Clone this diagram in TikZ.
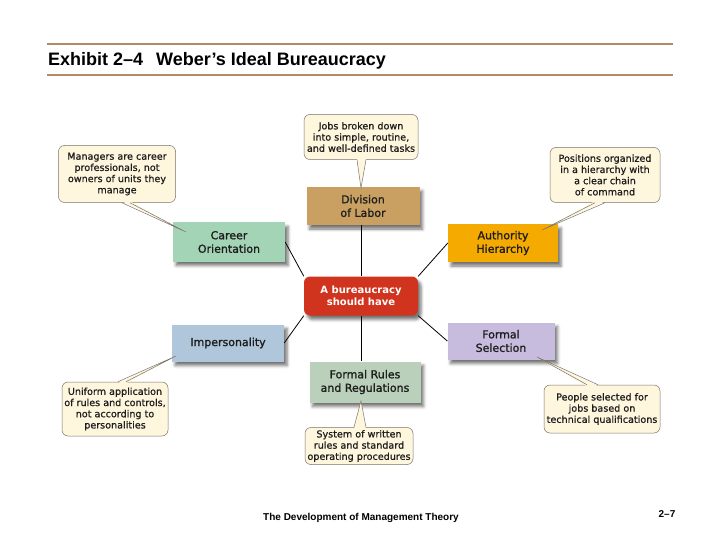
\documentclass[tikz,border=0pt]{standalone}
\usepackage{fontspec}
\setmainfont{Liberation Sans}
\newfontfamily\boxfont{DejaVu Sans}[BoldFont=DejaVu Sans,BoldFeatures={FakeBold=1.4}]
\newfontfamily\notefont{DejaVu Sans}[BoldFont=DejaVu Sans,BoldFeatures={FakeBold=0.8}]
\newfontfamily\hubfont{DejaVu Sans}
\usepackage{tikz}
\usetikzlibrary{calc,shadows.blur}
\usepackage{xcolor}
\definecolor{rulebrown}  {RGB}{180, 138, 100}
\definecolor{divtan}     {RGB}{202, 160,  98}
\definecolor{careergreen}{RGB}{164, 212, 182}
\definecolor{authorange} {RGB}{245, 170,   0}
\definecolor{hubred}     {RGB}{208,  52,  30}
\definecolor{imperblue}  {RGB}{176, 198, 218}
\definecolor{sellavender}{RGB}{200, 188, 222}
\definecolor{rulesage}   {RGB}{186, 208, 186}
\definecolor{notecream}  {RGB}{255, 246, 222}
\definecolor{notegray}   {RGB}{120, 115, 105}
\definecolor{inkgray}    {RGB}{ 30,  30,  30}

\begin{document}
\begin{tikzpicture}[
  x=1pt,y=-1pt,
  every node/.style={inner sep=0pt},
  topic/.style={align=center,text=inkgray,font=\boxfont\bfseries\fontsize{11}{13.5}\selectfont,
                blur shadow={shadow xshift=3pt,shadow yshift=-4pt,shadow blur radius=3pt,
                             shadow opacity=55}},
  hub/.style={topic,fill=hubred,rounded corners=6pt,text=white,
              font=\hubfont\bfseries\fontsize{10}{12.5}\selectfont},
  note/.style={draw=notegray,fill=notecream,rounded corners=6pt,align=center,text=inkgray,
               line width=0.5pt,font=\notefont\bfseries\fontsize{9.6}{11.2}\selectfont},
  wedgefill/.style={fill=notecream},
  wedgeline/.style={draw=notegray,line width=0.5pt},
  link/.style={draw=black,line width=0.8pt},
  rule/.style={draw=rulebrown,line width=1.5pt},
]
\useasboundingbox (0,0) rectangle (720,540);

%% ── Heading ──────────────────────────────────────────────────────────────
\draw[rule] (47,44) -- (673,44);
\draw[rule] (47,75) -- (673,75);
\node[anchor=west,font=\bfseries\fontsize{18}{22}\selectfont] (title) at (48,61)
  {Exhibit 2–4\hspace{8pt} Weber’s Ideal Bureaucracy};

%% ── Centre ───────────────────────────────────────────────────────────────
\node[hub,minimum width=114pt,minimum height=39pt] (hub) at (361,296)
  {A bureaucracy\\should have};

%% ── Six features ─────────────────────────────────────────────────────────
\node[topic,fill=divtan,minimum width=113pt,minimum height=38pt] (division) at (363,206)
  {Division\\of Labor};
\node[topic,fill=careergreen,minimum width=112pt,minimum height=39pt] (career) at (229,242)
  {Career\\Orientation};
\node[topic,fill=authorange,minimum width=110pt,minimum height=38pt] (authority) at (503,243)
  {Authority\\Hierarchy};
\node[topic,fill=imperblue,minimum width=112pt,minimum height=37pt] (imper) at (228,343)
  {Impersonality};
\node[topic,fill=sellavender,minimum width=107pt,minimum height=37pt] (selection) at (501,341)
  {Formal\\Selection};
\node[topic,fill=rulesage,minimum width=111pt,minimum height=41pt] (rules) at (365,382)
  {Formal Rules\\and Regulations};

%% ── Links to centre ──────────────────────────────────────────────────────
\draw[link] (division.south-|hub.north) -- (hub.north);
\draw[link] (hub.south) -- (rules.north-|hub.south);
\draw[link] (career.east) -- (hub.north west);
\draw[link] (authority.west) -- (hub.north east);
\draw[link] (imper.east) -- (hub.south west);
\draw[link] (selection.west) -- (hub.south east);

%% ── Call-outs ────────────────────────────────────────────────────────────
\node[note,minimum width=114pt,minimum height=45pt] (jobs) at (361,137)
  {Jobs broken down\\into simple, routine,\\and well-defined tasks};
\node[note,minimum width=117pt,minimum height=57pt] (managers) at (117,174)
  {Managers are career\\professionals, not\\owners of units they\\manage};
\node[note,minimum width=110pt,minimum height=55pt] (positions) at (605,175)
  {Positions organized\\in a hierarchy with\\a clear chain\\of command};
\node[note,minimum width=106pt,minimum height=54pt] (uniform) at (115,409)
  {Uniform application\\of rules and controls,\\not according to\\personalities};
\node[note,minimum width=116pt,minimum height=48pt] (people) at (602,409)
  {People selected for\\jobs based on\\technical qualifications};
\node[note,minimum width=108pt,minimum height=37pt] (system) at (359,446)
  {System of written\\rules and standard\\operating procedures};

%% tips of the pointers
\coordinate (jobstip)      at (361,188);
\coordinate (managerstip)  at (186,232);
\coordinate (positionstip) at (542,230);
\coordinate (uniformtip)   at (176,356);
\coordinate (peopletip)    at (537,357);
\coordinate (systemtip)    at (361,401);

%% pointers, opening into their call-out
\fill[wedgefill] ($(jobs.south)+(-4,-1.5)$) -- (jobstip) -- ($(jobs.south)+(5,-1.5)$) -- cycle;
\draw[wedgeline] ($(jobs.south)+(-4,0)$) -- (jobstip) -- ($(jobs.south)+(5,0)$);

\fill[wedgefill] ($(managers.south)+(5,-1.5)$) -- (managerstip) -- ($(managers.south)+(13,-1.5)$) -- cycle;
\draw[wedgeline] ($(managers.south)+(5,0)$) -- (managerstip) -- ($(managers.south)+(13,0)$);

\fill[wedgefill] ($(positions.south)+(-10,-1.5)$) -- (positionstip) -- ($(positions.south)+(0,-1.5)$) -- cycle;
\draw[wedgeline] ($(positions.south)+(-10,0)$) -- (positionstip) -- ($(positions.south)+(0,0)$);

\fill[wedgefill] ($(uniform.north)+(3,1.5)$) -- (uniformtip) -- ($(uniform.north)+(11,1.5)$) -- cycle;
\draw[wedgeline] ($(uniform.north)+(3,0)$) -- (uniformtip) -- ($(uniform.north)+(11,0)$);

\fill[wedgefill] ($(people.north)+(-15,1.5)$) -- (peopletip) -- ($(people.north)+(-4,1.5)$) -- cycle;
\draw[wedgeline] ($(people.north)+(-15,0)$) -- (peopletip) -- ($(people.north)+(-4,0)$);

\fill[wedgefill] ($(system.north)+(-5,1.5)$) -- (systemtip) -- ($(system.north)+(7,1.5)$) -- cycle;
\draw[wedgeline] ($(system.north)+(-5,0)$) -- (systemtip) -- ($(system.north)+(7,0)$);

%% ── Footer ───────────────────────────────────────────────────────────────
\node[font=\bfseries\fontsize{10}{12}\selectfont] (footer) at (361,518)
  {The Development of Management Theory};
\node[font=\bfseries\fontsize{10}{12}\selectfont] (pageno) at (667,514) {2–7};

\end{tikzpicture}
\end{document}
